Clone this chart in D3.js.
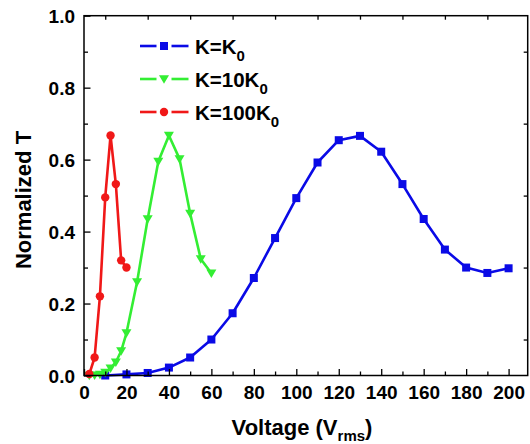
<!DOCTYPE html>
<html>
<head>
<meta charset="utf-8">
<script src="https://cdn.jsdelivr.net/npm/d3@7/dist/d3.min.js"></script>
<style>
html,body{margin:0;padding:0;background:#fff;}
svg{display:block;font-family:"Liberation Sans",Arial,sans-serif;font-weight:bold;}
</style>
</head>
<body>
<svg id="chart" width="530" height="444"></svg>
<script>
// ---- data ----
const blueX = [10, 20, 30, 40, 50, 60, 70, 80, 90, 100, 110, 120, 130, 140, 150, 160, 170, 180, 190, 200];
const blueY = [0.0, 0.003, 0.007, 0.022, 0.05, 0.10, 0.173, 0.271, 0.382, 0.493, 0.592, 0.654, 0.666, 0.622, 0.532, 0.435, 0.35, 0.30, 0.285, 0.298];
const greenX = [2.5, 5, 7.5, 10, 12.5, 15, 17.5, 20, 25, 30, 35, 40, 45, 50, 55, 60];
const greenY = [0.0, 0.001, 0.003, 0.008, 0.02, 0.037, 0.068, 0.118, 0.26, 0.435, 0.595, 0.667, 0.602, 0.45, 0.324, 0.284];
const redX = [2.5, 5, 7.5, 10, 12.5, 15, 17.5, 20];
const redY = [0.004, 0.05, 0.22, 0.495, 0.667, 0.532, 0.32, 0.30];
const xTicks = [0, 20, 40, 60, 80, 100, 120, 140, 160, 180, 200];
const yTicks = [0.0, 0.2, 0.4, 0.6, 0.8, 1.0];
const seriesNames = ["K=K", "K=10K", "K=100K"];
const seriesColors = ["#0a0ae6", "#33ee33", "#f01818"];
const seriesShapes = ["square", "triangle", "circle"];

const svg = d3.select("#chart");
const L = 84, R = 527.7, T = 15.7, B = 375.5;
const x = d3.scaleLinear().domain([0, 209]).range([L, R]);
const y = d3.scaleLinear().domain([0, 1]).range([B, T]);

const series = [
  {x: blueX, y: blueY},
  {x: greenX, y: greenY},
  {x: redX, y: redY}
];

function drawMarker(g, shape, cx, cy, color) {
  if (shape === "square") {
    g.append("rect").attr("x", cx - 4).attr("y", cy - 4).attr("width", 8).attr("height", 8).attr("fill", color);
  } else if (shape === "triangle") {
    const s = 5;
    g.append("path").attr("d", `M${cx - s},${cy - s * 0.75}L${cx + s},${cy - s * 0.75}L${cx},${cy + s * 0.95}Z`).attr("fill", color);
  } else {
    g.append("circle").attr("cx", cx).attr("cy", cy).attr("r", 4.2).attr("fill", color);
  }
}

const plot = svg.append("g");
const line = d3.line().x(d => x(d[0])).y(d => y(d[1]));
series.forEach((s, i) => {
  const pts = s.x.map((v, j) => [v, s.y[j]]);
  plot.append("path").datum(pts).attr("d", line).attr("fill", "none")
    .attr("stroke", seriesColors[i]).attr("stroke-width", 2.6).attr("stroke-linejoin", "round");
  pts.forEach(p => drawMarker(plot, seriesShapes[i], x(p[0]), y(p[1]), seriesColors[i]));
});

// ---- axes ----
const xMinor = d3.range(10, 210, 20);
const yMinor = [0.1, 0.3, 0.5, 0.7, 0.9];

const xAxis = d3.axisBottom(x).tickValues(xTicks).tickSize(-6.5).tickPadding(10).tickFormat(d3.format("d"));
const gx = svg.append("g").attr("transform", `translate(0,${B})`).call(xAxis);
const gxm = svg.append("g").attr("transform", `translate(0,${B})`)
  .call(d3.axisBottom(x).tickValues(xMinor).tickSize(-4).tickFormat(""));
const gxt = svg.append("g").attr("transform", `translate(0,${T})`)
  .call(d3.axisTop(x).tickValues(xMinor).tickSize(-4).tickFormat(""));

const yAxis = d3.axisLeft(y).tickValues(yTicks).tickSize(-6.5).tickPadding(9).tickFormat(d3.format(".1f"));
const gy = svg.append("g").attr("transform", `translate(${L},0)`).call(yAxis);
const gym = svg.append("g").attr("transform", `translate(${L},0)`)
  .call(d3.axisLeft(y).tickValues(yMinor).tickSize(-4).tickFormat(""));
const gyr = svg.append("g").attr("transform", `translate(${R},0)`)
  .call(d3.axisRight(y).tickValues(yMinor).tickSize(-4).tickFormat(""));

[gx, gxm, gxt, gy, gym, gyr].forEach(g => {
  g.select(".domain").remove();
  g.selectAll(".tick line").attr("stroke", "#000").attr("stroke-width", 1.3);
  g.selectAll("text").attr("font-family", "Liberation Sans, Arial, sans-serif")
    .attr("font-weight", "bold").attr("font-size", 19).attr("fill", "#000");
});
gy.selectAll("text").attr("dy", "0.36em");

svg.append("rect").attr("x", L).attr("y", T).attr("width", R - L).attr("height", B - T)
  .attr("fill", "none").attr("stroke", "#000").attr("stroke-width", 1.5);

// ---- axis titles ----
const xt = svg.append("text").attr("x", 302).attr("y", 435).attr("text-anchor", "middle")
  .attr("font-size", 22).attr("font-weight", "bold");
xt.append("tspan").text("Voltage (V");
xt.append("tspan").attr("font-size", 15).attr("dy", 6).text("rms");
xt.append("tspan").attr("dy", -6).text(")");

svg.append("text").attr("transform", "translate(31,200) rotate(-90)").attr("text-anchor", "middle")
  .attr("font-size", 22).attr("font-weight", "bold").text("Normalized T");

// ---- legend ----
const legY = [46, 79, 112];
const subs = ["0", "0", "0"];
const leg = svg.append("g");
seriesNames.forEach((name, i) => {
  const cy = legY[i];
  leg.append("line").attr("x1", 140).attr("x2", 156.5).attr("y1", cy).attr("y2", cy)
    .attr("stroke", seriesColors[i]).attr("stroke-width", 2.6);
  leg.append("line").attr("x1", 171.5).attr("x2", 188.5).attr("y1", cy).attr("y2", cy)
    .attr("stroke", seriesColors[i]).attr("stroke-width", 2.6);
  drawMarker(leg, seriesShapes[i], 164, cy, seriesColors[i]);
  const t = leg.append("text").attr("x", 195).attr("y", cy + 7.5).attr("font-size", 20.5).attr("font-weight", "bold");
  t.append("tspan").text(name);
  t.append("tspan").attr("font-size", 15).attr("dy", 7).text(subs[i]);
});
</script>
</body>
</html>
